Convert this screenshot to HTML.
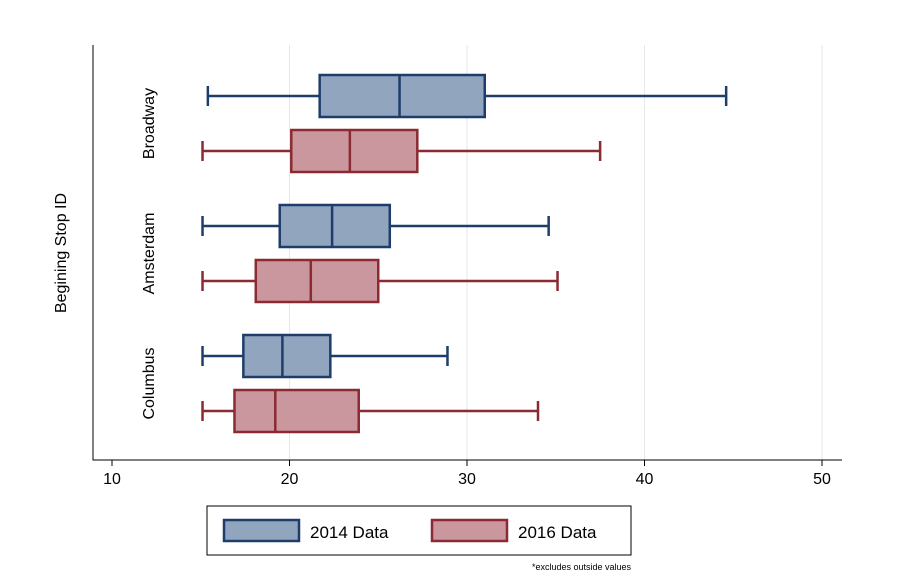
<!DOCTYPE html>
<html><head><meta charset="utf-8"><style>
html,body{margin:0;padding:0;background:#fff;width:900px;height:578px;overflow:hidden}
text{font-family:"Liberation Sans",Arial,sans-serif}
</style></head><body>
<svg id="chart" width="900" height="578" viewBox="0 0 900 578" xmlns="http://www.w3.org/2000/svg"></svg>
<script>
const groups = ["Broadway","Amsterdam","Columbus"];
const series = ["2014 Data","2016 Data"];
const whiskLo = [[15.4,15.1],[15.1,15.1],[15.1,15.1]];
const q1 = [[21.7,20.1],[19.45,18.1],[17.4,16.9]];
const med = [[26.2,23.4],[22.4,21.2],[19.6,19.2]];
const q3 = [[31.0,27.2],[25.65,25.0],[22.3,23.9]];
const whiskHi = [[44.6,37.5],[34.6,35.1],[28.9,34.0]];
const xTicks = [10,20,30,40,50];

const svg = document.getElementById('chart');
const NS = 'http://www.w3.org/2000/svg';
function mk(tag, attrs, parent){const e=document.createElementNS(NS,tag);for(const k in attrs)e.setAttribute(k,attrs[k]);(parent||svg).appendChild(e);return e;}
const x = v => 112 + (v-10)*17.75;
const boxY = (g,s) => 75 + g*130 + s*55;
const BH = 42;
const fills = ["#91a5bf","#c9979d"];
const strokes = ["#1f3d6b","#8c2a33"];

// grid
for (const t of xTicks.slice(1)) {
  const l = mk('line',{x1:x(t),x2:x(t),y1:45,y2:460,stroke:'#e3e8ec','stroke-width':1});
  
  
}
// axes
const ax = mk('path',{d:'M93 45 V460 H842',fill:'none',stroke:'#000','stroke-width':1});


for (const t of xTicks) {
  const tk = mk('line',{x1:x(t),x2:x(t),y1:460,y2:466,stroke:'#000'});
  
  
  const tl = mk('text',{x:x(t),y:484,'text-anchor':'middle','font-size':16,fill:'#000'});
  tl.textContent = t;
  
  
}
// boxes
groups.forEach((gname,g)=>{
  series.forEach((sn,s)=>{
    const y0 = boxY(g,s), yc = y0+BH/2;
    const grp = mk('g',{stroke:strokes[s],'stroke-width':2.5,fill:'none'});
    
    
    mk('line',{x1:x(whiskLo[g][s]),x2:x(q1[g][s]),y1:yc,y2:yc},grp);
    mk('line',{x1:x(q3[g][s]),x2:x(whiskHi[g][s]),y1:yc,y2:yc},grp);
    mk('line',{x1:x(whiskLo[g][s]),x2:x(whiskLo[g][s]),y1:yc-10,y2:yc+10},grp);
    mk('line',{x1:x(whiskHi[g][s]),x2:x(whiskHi[g][s]),y1:yc-10,y2:yc+10},grp);
    mk('rect',{x:x(q1[g][s]),y:y0,width:x(q3[g][s])-x(q1[g][s]),height:BH,fill:fills[s]},grp);
    mk('line',{x1:x(med[g][s]),x2:x(med[g][s]),y1:y0,y2:y0+BH},grp);
  });
  const cy = boxY(g,0)+ (55+BH)/2;
  const lab = mk('text',{x:0,y:0,transform:`translate(154,${cy}) rotate(-90)`,'text-anchor':'middle','font-size':16,fill:'#000'});
  lab.textContent = gname;
  
  
});
const yt = mk('text',{x:0,y:0,transform:'translate(66,253) rotate(-90)','text-anchor':'middle','font-size':16,fill:'#000'});
yt.textContent='Begining Stop ID';


// legend
const lg = mk('g',{});


mk('rect',{x:207,y:506,width:424,height:49,fill:'#fff',stroke:'#000','stroke-width':1},lg);
const lx=[224,432];
series.forEach((sn,s)=>{
  const r = mk('rect',{x:lx[s],y:520,width:75,height:21,fill:fills[s],stroke:strokes[s],'stroke-width':2.5},lg);
  
  
  const t = mk('text',{x:lx[s]+86,y:538,'font-size':17,fill:'#000'},lg);
  t.textContent=sn;
  
  
});
const fn = mk('text',{x:631,y:570,'text-anchor':'end','font-size':9,fill:'#000'});
fn.textContent='*excludes outside values';


</script>
</body></html>
